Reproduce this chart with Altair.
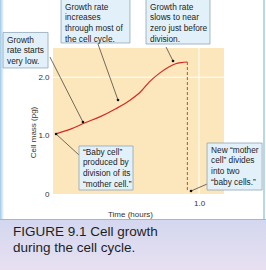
import altair as alt
import pandas as pd

# ---- data: cell mass over one cell cycle ----
time_h = [0.02, 0.12, 0.22, 0.32, 0.43, 0.53, 0.60, 0.66, 0.73, 0.79, 0.84, 0.88, 0.92]
mass_pg = [1.03, 1.11, 1.22, 1.32, 1.46, 1.61, 1.75, 1.92, 2.07, 2.17, 2.23, 2.25, 2.26]

division_time = [0.92]
division_top = [2.26]
division_bottom = [0.05]

y_ticks = [0, 1, 2]
x_ticks = [1]
grid_y = [2.0]
grid_x = [1.0]

# ---- annotations (data units) ----
callout_text = [
    "Growth\nrate starts\nvery low.",
    "Growth rate\nincreases\nthrough most of\nthe cell cycle.",
    "Growth rate\nslows to near\nzero just before\ndivision.",
    "\u201cBaby cell\u201d\nproduced by\ndivision of its\n\u201cmother cell.\u201d",
    "New \u201cmother\ncell\u201d divides\ninto two\n\u201cbaby cells.\u201d",
]
box_x1 = [-0.342, 0.055, 0.637, 0.178, 1.055]
box_x2 = [-0.034, 0.527, 1.075, 0.548, 1.432]
box_y1 = [2.766, 3.356, 3.356, 0.822, 0.873]
box_y2 = [2.158, 2.586, 2.568, 0.068, 0.068]
text_top = [2.714, 3.279, 3.279, 0.796, 0.830]

ptr_x1 = [-0.021, 0.308, 0.774, 0.178, 1.055]
ptr_y1 = [2.346, 2.568, 2.517, 0.668, 0.171]
ptr_x2 = [0.205, 0.445, 0.822, 0.021, 0.945]
ptr_y2 = [1.233, 1.610, 2.277, 1.027, 0.051]

caption = "FIGURE 9.1 Cell growth\nduring the cell cycle."

FONT = "Liberation Sans"
xs = alt.Scale(domain=[0, 1.171], nice=False, zero=False)
ys = alt.Scale(domain=[0, 2.5], nice=False, zero=False)

x_axis = alt.Axis(values=x_ticks, format=".1f", title="Time (hours)", grid=False,
                  domain=False, ticks=False, labelPadding=5,
                  labelFont=FONT, labelFontSize=8, labelColor="#333",
                  titleFont=FONT, titleFontSize=8, titleFontWeight="normal",
                  titleColor="#333", titleX=77, titleY=20, titleBaseline="middle",
                  titleAlign="center")
y_axis = alt.Axis(values=y_ticks, title="Cell mass (pg)", grid=False,
                  labelExpr="datum.value == 0 ? '0' : format(datum.value, '.1f')",
                  domain=False, ticks=False, labelPadding=4,
                  labelFont=FONT, labelFontSize=8, labelColor="#333",
                  titleFont=FONT, titleFontSize=8, titleFontWeight="normal",
                  titleColor="#333", titleX=-20, titleY=84, titleAngle=-90,
                  titleBaseline="middle", titleAlign="center")

def X(f):
    return alt.X(f, scale=xs, axis=x_axis)

def Y(f):
    return alt.Y(f, scale=ys, axis=y_axis)

curve_df = pd.DataFrame({"t": time_h, "m": mass_pg})
div_df = pd.DataFrame({"t": division_time, "top": division_top, "bot": division_bottom})
gy_df = pd.DataFrame({"v": grid_y})
gx_df = pd.DataFrame({"v": grid_x})
box_df = pd.DataFrame({"x1": box_x1, "x2": box_x2, "y1": box_y1, "y2": box_y2,
                       "ty": text_top, "label": callout_text})
ptr_df = pd.DataFrame({"x1": ptr_x1, "y1": ptr_y1, "x2": ptr_x2, "y2": ptr_y2})
one = pd.DataFrame({"k": [0]})

# ---- frame decorations ----
cap_bg = alt.Chart(one).mark_rect(
    fill=alt.Gradient(gradient="linear",
                      stops=[alt.GradientStop(color="#d3d7ef", offset=0),
                             alt.GradientStop(color="#e8e0f1", offset=1)],
                      x1=0, x2=0, y1=0, y2=1)
).encode(x=alt.value(-53), x2=alt.value(213), y=alt.value(172), y2=alt.value(222))

sep = alt.Chart(one).mark_rule(color="#a9b3c9", strokeWidth=1).encode(
    x=alt.value(-53), x2=alt.value(213), y=alt.value(171.5))

left_strip = alt.Chart(one).mark_rect(
    fill=alt.Gradient(gradient="linear",
                      stops=[alt.GradientStop(color="#9ec9e8", offset=0),
                             alt.GradientStop(color="#ffffff", offset=1)],
                      x1=0, x2=1, y1=0, y2=0)
).encode(x=alt.value(-53), x2=alt.value(-49), y=alt.value(-48), y2=alt.value(171))

right_strip = alt.Chart(one).mark_rule(color="#b7d6ec", strokeWidth=2).encode(
    x=alt.value(211), y=alt.value(-48), y2=alt.value(171))

caption_txt = alt.Chart(one).mark_text(
    text=caption, lineBreak="\n", align="left", baseline="alphabetic",
    font=FONT, fontSize=13.5, lineHeight=16, color="#1e1e1e"
).encode(x=alt.value(-40), y=alt.value(187.5))

# ---- plot content ----
grid_h = alt.Chart(gy_df).mark_rule(color="white", strokeWidth=1).encode(y=Y("v:Q"))
grid_v = alt.Chart(gx_df).mark_rule(color="white", strokeWidth=1).encode(x=X("v:Q"))

line = alt.Chart(curve_df).mark_line(color="#d42a22", strokeWidth=1.2, interpolate="monotone").encode(
    x=X("t:Q"), y=Y("m:Q"))

dashed = alt.Chart(div_df).mark_rule(color="#9a4a2a", strokeDash=[3, 2], strokeWidth=0.9).encode(
    x=X("t:Q"), y=Y("top:Q"), y2="bot:Q")

pointers = alt.Chart(ptr_df).mark_rule(color="#333", strokeWidth=0.7).encode(
    x=X("x1:Q"), y=Y("y1:Q"), x2="x2:Q", y2="y2:Q")

dots = alt.Chart(ptr_df).mark_circle(color="#111", opacity=1, size=7).encode(
    x=X("x2:Q"), y=Y("y2:Q"))

boxes = alt.Chart(box_df).mark_rect(fill="#e2f1f9", stroke="#8ea6b8", strokeWidth=0.8).encode(
    x=X("x1:Q"), x2="x2:Q", y=Y("y1:Q"), y2="y2:Q")

box_txt = alt.Chart(box_df).mark_text(
    lineBreak="\n", align="left", baseline="top", dx=4,
    font=FONT, fontSize=8.3, lineHeight=10.7, color="#222"
).encode(x=X("x1:Q"), y=Y("ty:Q"), text="label:N")

chart = alt.layer(
    cap_bg, sep, left_strip, right_strip, caption_txt,
    grid_h, grid_v, line, dashed, pointers, boxes, box_txt, dots
).properties(
    width=171, height=146,
    padding={"left": 53, "top": 48, "right": 42, "bottom": 76},
    autosize=alt.AutoSizeParams(type="none"),
    background="white",
).configure_view(fill="#fce6bb", strokeWidth=0)

chart.save("out.html", embed_options={"renderer": "svg", "actions": False})
